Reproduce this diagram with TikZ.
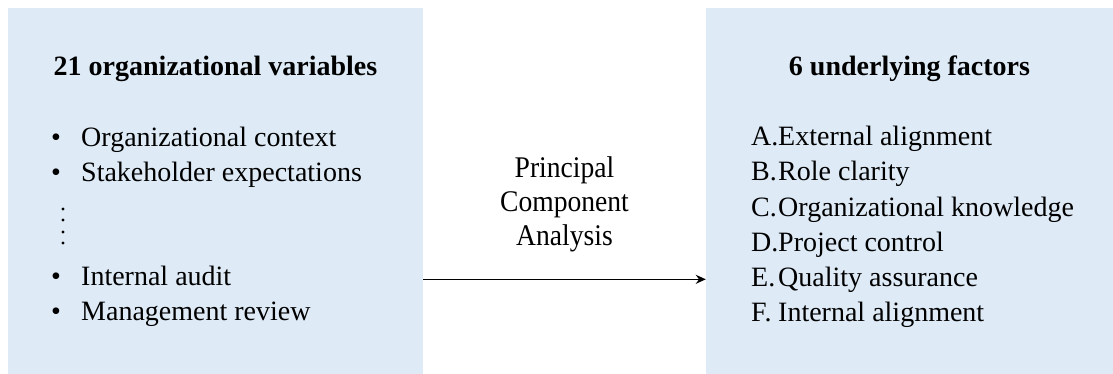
\documentclass[tikz,border=0pt]{standalone}
\usepackage{fontspec}
\setmainfont{Liberation Serif}
\newfontfamily\pcafont{Liberation Serif}[FakeStretch=0.92]
\usepackage{tikz}
\usetikzlibrary{arrows.meta}
\definecolor{panelblue}{HTML}{DEEBF7}
\tikzset{panel/.style={fill=panelblue,draw=none,minimum height=366pt},
    head/.style={font=\fontsize{28}{34}\selectfont\bfseries,anchor=base},
    item/.style={font=\fontsize{28}{34}\selectfont,anchor=base west},
    x=1pt,y=-1pt}

\begin{document}
\begin{tikzpicture}[every node/.style={inner sep=0pt}]
    \useasboundingbox (0,0) rectangle (1113,374);
    % the two panels
    \node[panel,minimum width=415pt] (vars) at (215.5,191) {};
    \node[panel,minimum width=407pt] (facs) at (909.5,191) {};
    \node[head] (vhead) at (vars.center |- 0,76) {21 organizational variables};
    \node[head] (fhead) at (facs.center |- 0,76) {6 underlying factors};
    % left list
    \foreach \txt [count=\i] in {Organizational context, Stakeholder expectations}
        \node[item] (v\i) at (51,112+35*\i) {\makebox[30pt][l]{\textbullet}\txt};
    \foreach \txt [count=\i] in {Internal audit, Management review}
        \node[item] (w\i) at (51,250+35*\i) {\makebox[30pt][l]{\textbullet}\txt};
    \foreach \y in {209,220,232,243}
        \fill (63,\y) circle (1.6pt);
    % right list
    \foreach \l/\txt [count=\i] in {A/External alignment, B/Role clarity,
        C/Organizational knowledge, D/Project control,
        E/Quality assurance, F/Internal alignment}
        \node[item] (f\l) at (751,111+35*\i) {\makebox[27pt][l]{\l.}\txt};
    % middle
    \node[font=\pcafont\fontsize{30}{34}\selectfont,align=center,anchor=base] (pca)
        at (564.5,245) {Principal\\Component\\Analysis};
    \draw[-{Stealth[length=10pt,width=9pt]},line width=1.6pt]
        (vars.east |- fE.center) -- (facs.west |- fE.center);
\end{tikzpicture}
\end{document}
